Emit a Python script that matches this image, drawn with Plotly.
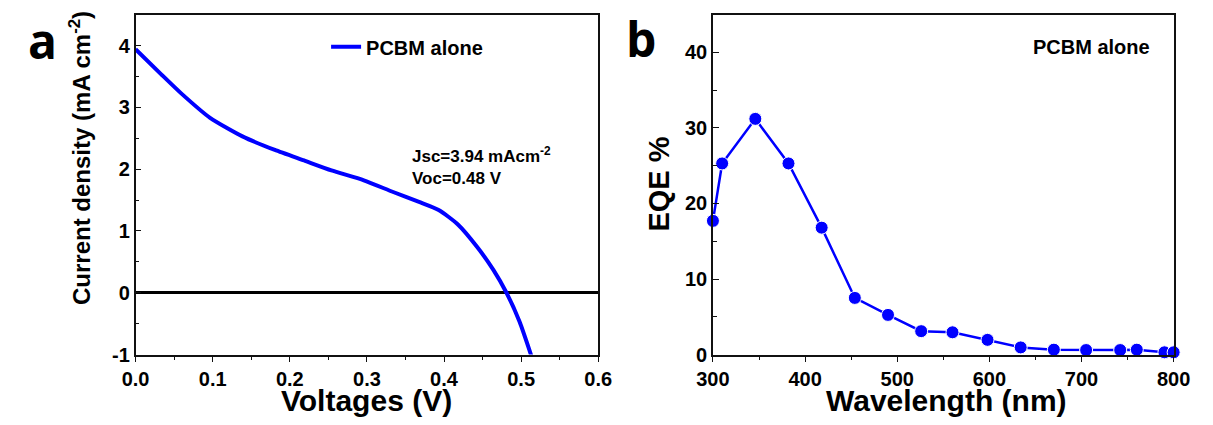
import plotly.graph_objects as go

# J-V curve of the PCBM-only device
voltage = [0.0, 0.0336, 0.0588, 0.0966, 0.1386, 0.1806, 0.2185, 0.254, 0.296,
           0.334, 0.3676, 0.393, 0.418, 0.443, 0.464, 0.481, 0.498, 0.514]
current = [3.94, 3.53, 3.23, 2.83, 2.53, 2.31, 2.14, 1.98, 1.82,
           1.63, 1.47, 1.34, 1.105, 0.74, 0.37, 0.0, -0.47, -1.05]

# EQE spectrum
wavelength = [300, 310, 346, 382, 418, 454, 490, 526, 560, 598, 634, 670,
              705, 742, 760, 790, 800]
eqe = [17.7, 25.3, 31.2, 25.3, 16.8, 7.5, 5.25, 3.1, 2.95, 1.95, 0.95, 0.65,
       0.6, 0.6, 0.65, 0.3, 0.3]

# tick labels
v_ticks = [0.0, 0.1, 0.2, 0.3, 0.4, 0.5, 0.6]
v_labels = ["0.0", "0.1", "0.2", "0.3", "0.4", "0.5", "0.6"]
j_ticks = [-1, 0, 1, 2, 3, 4]
j_labels = ["-1", "0", "1", "2", "3", "4"]
wl_ticks = [300, 400, 500, 600, 700, 800]
wl_labels = ["300", "400", "500", "600", "700", "800"]
eqe_ticks = [0, 10, 20, 30, 40]
eqe_labels = ["0", "10", "20", "30", "40"]

W, H = 1213, 425
BLUE = "#0000ff"
FONT = "Liberation Sans, Arial, sans-serif"


def px_x(p):
    return p / W


def px_y(p):
    return (H - p) / H


def bold(labels):
    return ["<b>%s</b>" % s for s in labels]


fig = go.Figure()

fig.add_trace(go.Scatter(
    x=voltage, y=current, mode="lines", name="<b>PCBM alone</b>",
    line=dict(color=BLUE, width=4, shape="spline", smoothing=0.6),
    xaxis="x", yaxis="y", showlegend=True,
))

fig.add_trace(go.Scatter(
    x=wavelength, y=eqe, mode="lines+markers", name="EQE",
    line=dict(color=BLUE, width=2.5),
    marker=dict(color=BLUE, size=13, line=dict(color="white", width=1)),
    xaxis="x2", yaxis="y2", showlegend=False, cliponaxis=False,
))

axis_common = dict(
    showline=True, linecolor="#111", linewidth=1.5, mirror=True,
    showgrid=False, ticklen=6, tickwidth=1.2, tickcolor="#111",
    tickfont=dict(family=FONT, size=20, color="black"),
    tickmode="array",
)

ydom = [px_y(364), px_y(15)]

fig.update_layout(
    width=W, height=H, autosize=False,
    margin=dict(l=0, r=0, t=0, b=0),
    paper_bgcolor="white", plot_bgcolor="white",
    xaxis=dict(domain=[px_x(122), px_x(598)], range=[0, 0.6],
               tickvals=v_ticks, ticktext=bold(v_labels),
               ticks="outside", zeroline=False,
               minor=dict(dtick=0.05, ticks="outside", ticklen=4, tickcolor="#111"),
               anchor="y", **axis_common),
    yaxis=dict(domain=ydom, range=[-1, 4.5],
               tickvals=j_ticks, ticktext=bold(j_labels), ticks="inside",
               zeroline=True, zerolinecolor="black", zerolinewidth=2.5,
               minor=dict(dtick=0.5, ticks="inside", ticklen=4, tickcolor="#111"),
               anchor="x", **axis_common),
    xaxis2=dict(domain=[px_x(716), px_x(1190)], range=[300, 800],
                tickvals=wl_ticks, ticktext=bold(wl_labels),
                ticks="outside", zeroline=False,
                minor=dict(dtick=50, ticks="outside", ticklen=4, tickcolor="#111"),
                anchor="y2", **axis_common),
    yaxis2=dict(domain=ydom, range=[0, 45],
                tickvals=eqe_ticks, ticktext=bold(eqe_labels), ticks="inside",
                zeroline=False,
                minor=dict(dtick=5, ticks="inside", ticklen=4, tickcolor="#111"),
                anchor="x2", **axis_common),
    legend=dict(x=px_x(318), y=px_y(48), xanchor="left", yanchor="middle",
                bgcolor="rgba(0,0,0,0)", borderwidth=0,
                font=dict(family=FONT, size=20, color="black")),
)

annotations = [
    dict(text="Voltages (V)", x=px_x(360), y=px_y(411), size=30, angle=0),
    dict(text="Current density (mA cm<sup>-2</sup>)", x=px_x(65), y=px_y(162),
         size=24, angle=-90),
    dict(text="Wavelength (nm)", x=px_x(956), y=px_y(411), size=30, angle=0),
    dict(text="EQE %", x=px_x(661), y=px_y(189), size=29, angle=-90),
]
for a in annotations:
    fig.add_annotation(
        text="<b>%s</b>" % a["text"], x=a["x"], y=a["y"],
        xref="paper", yref="paper",
        showarrow=False, textangle=a["angle"], xanchor="center", yanchor="middle",
        font=dict(family=FONT, size=a["size"], color="black"),
    )

# device parameters next to the J-V curve
fig.add_annotation(
    text="<b>Jsc=3.94 mAcm<sup>-2</sup><br>Voc=0.48 V</b>",
    x=px_x(404), y=px_y(170), xref="paper", yref="paper", showarrow=False,
    xanchor="left", yanchor="middle", align="left",
    font=dict(family=FONT, size=17, color="black"),
)

fig.add_annotation(
    text="<b>PCBM alone</b>", x=px_x(1106), y=px_y(48), xref="paper", yref="paper",
    showarrow=False, xanchor="center", yanchor="middle",
    font=dict(family=FONT, size=20, color="black"),
)

# panel letters
for letter, lx, cy in [("a", 9, 42), ("b", 624, 40)]:
    fig.add_annotation(
        text="<b>%s</b>" % letter, x=px_x(lx), y=px_y(cy),
        xref="paper", yref="paper",
        showarrow=False, xanchor="left", yanchor="middle",
        font=dict(family="Open Sans, sans-serif", size=48, color="black"),
    )

fig.write_html("out.html")
